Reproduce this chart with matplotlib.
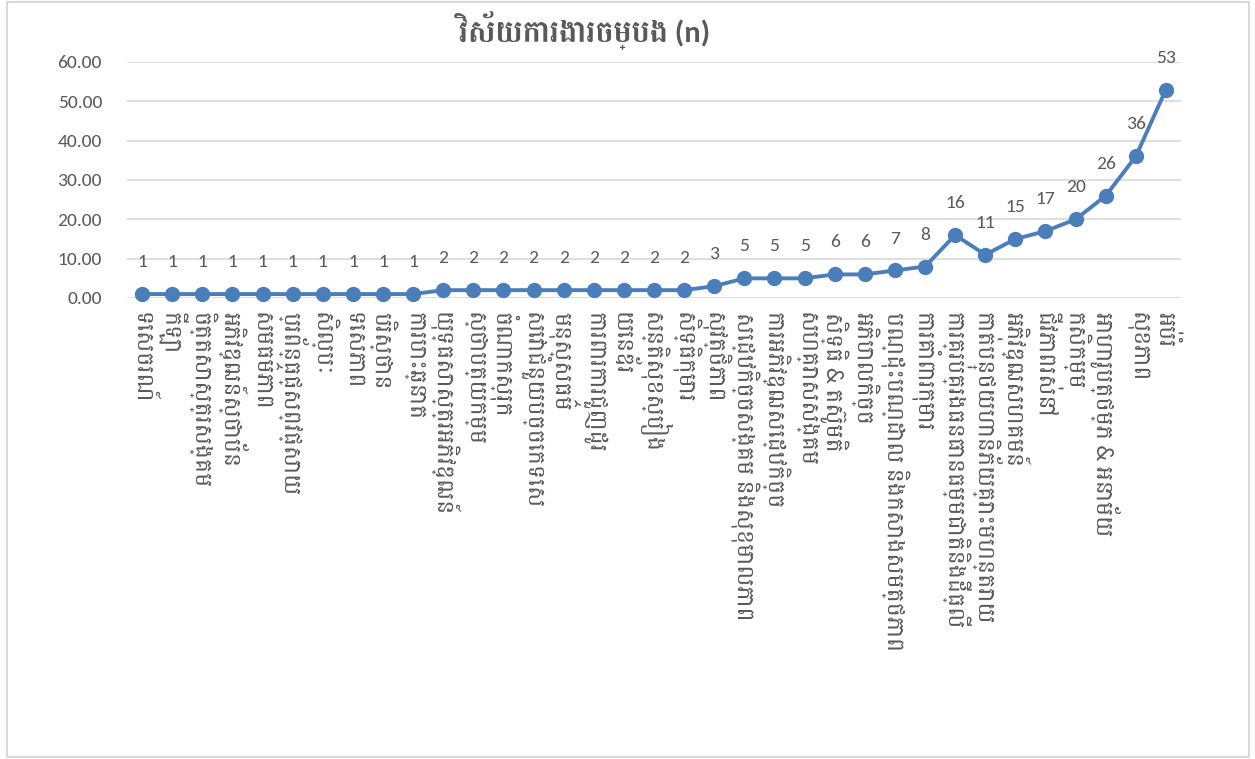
import matplotlib
matplotlib.use('Agg')
import matplotlib.pyplot as plt
from matplotlib.patches import Rectangle
import warnings
warnings.filterwarnings('ignore')

plt.rcParams['font.family'] = ['Carlito', 'Battambang', 'DejaVu Sans']

title = 'វិស័យការងារចម្បង (n)'

sectors = ['ទេសចរណ៍', 'កីឡា', 'ចិត្តសាស្ត្រសង្គម', 'អភិវឌ្ឍន៍ស្ថាប័ន', 'សមធម៌ភាព',
           'ប្រព័ន្ធផ្សព្វផ្សាយ', 'សិល្បៈ', 'ទេសភាព', 'បរិស្ថាន', 'ការបោះឆ្នោត',
           'យុទ្ធសាស្ត្រអភិវឌ្ឍន៍', 'ស្ថាបត្យកម្ម', 'ចំណាកស្រុក', 'សេវាជំនួយបច្ចេកទេស',
           'មនុស្សធម៌', 'ការពារការជួញដូរ', 'យេនឌ័រ', 'សន្តិសុខស្បៀង', 'សិទ្ធិកុមារ',
           'សុវត្ថិភាព', 'សេដ្ឋកិច្ចសង្គម និងសុខុមាលភាព', 'ការអភិវឌ្ឍសេដ្ឋកិច្ច',
           'សហគ្រាសសង្គម', 'សិទ្ធិ & តស៊ូមតិ', 'អភិបាលកិច្ច',
           'បណ្ដុះបណ្ដាល និងកសាងសមត្ថភាព', 'ការគាំពារកុមារ',
           'ការគ្រប់គ្រងធនធានធម្មជាតិនិងដីធ្លី', 'កាត់បន្ថយហានិភ័យគ្រោះមហន្តរាយ',
           'អភិវឌ្ឍសហគមន៍', 'ជីវភាពរស់នៅ', 'កសិកម្ម', 'អាហារូបត្ថម្ភ & អនាម័យ',
           'សុខភាព', 'អប់រំ']
counts = [1, 1, 1, 1, 1, 1, 1, 1, 1, 1,
          2, 2, 2, 2, 2, 2, 2, 2, 2,
          3, 5, 5, 5, 6, 6, 7, 8, 16, 11, 15, 17, 20, 26, 36, 53]
yticks = [0, 10, 20, 30, 40, 50, 60]

grey = '#595959'
blue = '#4a7ebb'

fig = plt.figure(figsize=(12.55, 7.59), dpi=100)
fig.patches.append(Rectangle((7/1255, 2/759), 1242/1255, 755/759, transform=fig.transFigure,
                             fill=False, edgecolor='#d9d9d9', linewidth=1.5))
ax = fig.add_axes([127/1255, 1-298/759, 1054/1255, 236/759])

x = list(range(len(counts)))
ax.plot(x, counts, '-o', color=blue, linewidth=2.8, markersize=10, zorder=3, clip_on=False)
for xi, v in zip(x, counts):
    ax.annotate(str(v), (xi, v), xytext=(0, 23), textcoords='offset points',
                ha='center', va='center', fontsize=14, color=grey)

ax.set_xlim(-0.5, len(counts) - 0.5)
ax.set_ylim(0, 60)
ax.set_yticks(yticks)
ax.set_yticklabels(['%.2f' % t for t in yticks], fontsize=14, color=grey)
ax.set_xticks(x)
ax.set_xticklabels(sectors, rotation=-90, fontsize=17, color=grey, ha='center', va='top')
ax.tick_params(length=0)
ax.tick_params(axis='y', pad=18)
ax.tick_params(axis='x', pad=10)
ax.grid(axis='y', color='#d9d9d9', linewidth=1.2)
ax.set_axisbelow(True)
for s in ax.spines.values():
    s.set_visible(False)

fig.text(585/1255, 1-30/759, title, ha='center', va='center', fontsize=22,
         fontweight='bold', color=grey)

fig.savefig('out.png', dpi=100)
